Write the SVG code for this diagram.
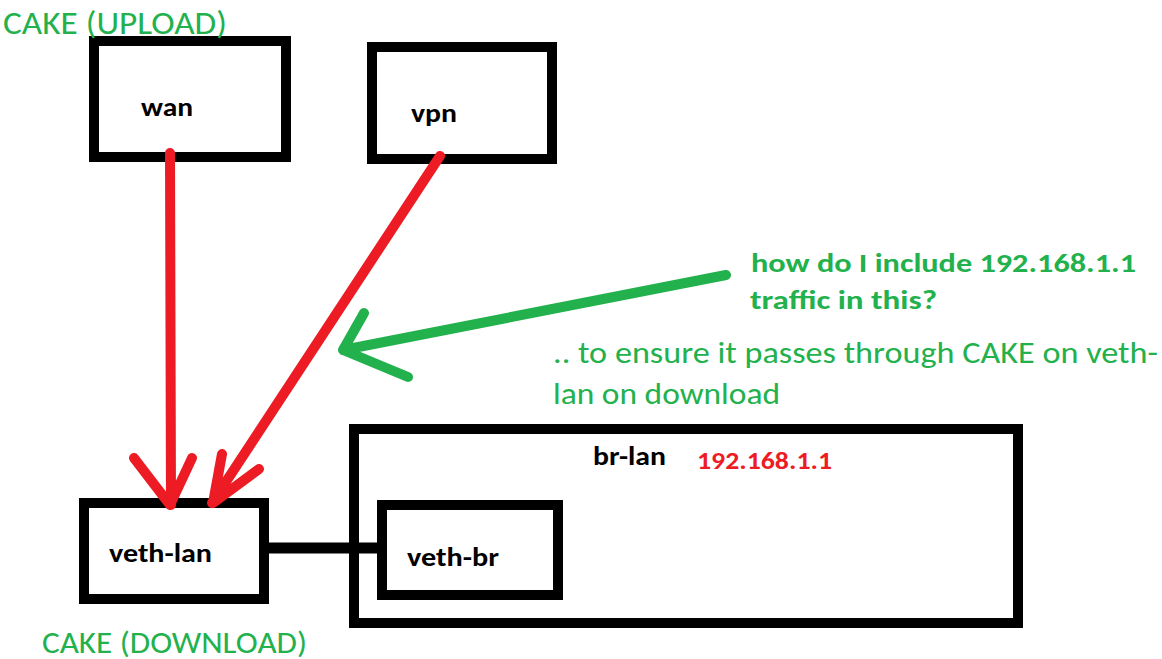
<svg xmlns="http://www.w3.org/2000/svg" width="1162" height="659" viewBox="0 0 1162 659">
<style>
.box{fill:none;stroke:#000;stroke-width:10}
.red{fill:none;stroke:#ed1c24;stroke-width:10;stroke-linecap:round;stroke-linejoin:round}
.grn{fill:none;stroke:#22b14c;stroke-width:10;stroke-linecap:round;stroke-linejoin:round}
.lbl{font-family:Carlito,Lato,"Liberation Sans",sans-serif;font-weight:bold;fill:#000}
.note{font-family:Carlito,Lato,"Liberation Sans",sans-serif;fill:#22b14c}
.noteb{font-family:Carlito,Lato,"Liberation Sans",sans-serif;font-weight:bold;fill:#22b14c}
.ip{font-family:Carlito,Lato,"Liberation Sans",sans-serif;font-weight:bold;fill:#ed1c24}
</style>
<rect width="1162" height="659" fill="#fff"/>
<g id="wan">
<rect class="box" x="94" y="41" width="192" height="116"/>
<text class="lbl" x="141" y="116" font-size="27" textLength="52" lengthAdjust="spacingAndGlyphs">wan</text>
</g>
<g id="vpn">
<rect class="box" x="372" y="47" width="180" height="112"/>
<text class="lbl" x="411" y="122" font-size="27" textLength="46" lengthAdjust="spacingAndGlyphs">vpn</text>
</g>
<g id="br-lan">
<rect class="box" x="354" y="429" width="664" height="194"/>
<text class="lbl" x="593" y="465" font-size="27" textLength="73" lengthAdjust="spacingAndGlyphs">br-lan</text>
<text class="ip" x="697" y="469" font-size="25" textLength="135" lengthAdjust="spacingAndGlyphs">192.168.1.1</text>
</g>
<g id="veth-lan">
<rect class="box" x="84" y="503" width="180" height="96"/>
<text class="lbl" x="109" y="562" font-size="27" textLength="103" lengthAdjust="spacingAndGlyphs">veth-lan</text>
</g>
<g id="veth-br">
<rect class="box" x="382" y="505" width="176" height="90"/>
<text class="lbl" x="407" y="566" font-size="27" textLength="92" lengthAdjust="spacingAndGlyphs">veth-br</text>
</g>
<g id="connectors">
<line x1="264" y1="548" x2="382" y2="548" stroke="#000" stroke-width="11"/>
<path class="red" d="M170 153 L171 505 M134 458 L170 505 L192 458"/>
<path class="red" d="M440 156 L212 503 M222 454 L213 503 L259 469"/>
<path class="grn" d="M726 275 L343 350 M364 313 L343 350 L408 377"/>
</g>
<g id="annotations">
<text class="note" x="3" y="34" font-size="32" textLength="224" lengthAdjust="spacingAndGlyphs">CAKE (UPLOAD)</text>
<text class="note" x="42" y="653" font-size="30" textLength="265" lengthAdjust="spacingAndGlyphs">CAKE (DOWNLOAD)</text>
<text class="noteb" x="751" y="272" font-size="27" textLength="385" lengthAdjust="spacingAndGlyphs">how do I include 192.168.1.1</text>
<text class="noteb" x="750" y="309" font-size="27" textLength="187" lengthAdjust="spacingAndGlyphs">traffic in this?</text>
<text class="note" x="553" y="363" font-size="30" textLength="605" lengthAdjust="spacingAndGlyphs">.. to ensure it passes through CAKE on veth-</text>
<text class="note" x="553" y="404" font-size="30" textLength="227" lengthAdjust="spacingAndGlyphs">lan on download</text>
</g>
</svg>
